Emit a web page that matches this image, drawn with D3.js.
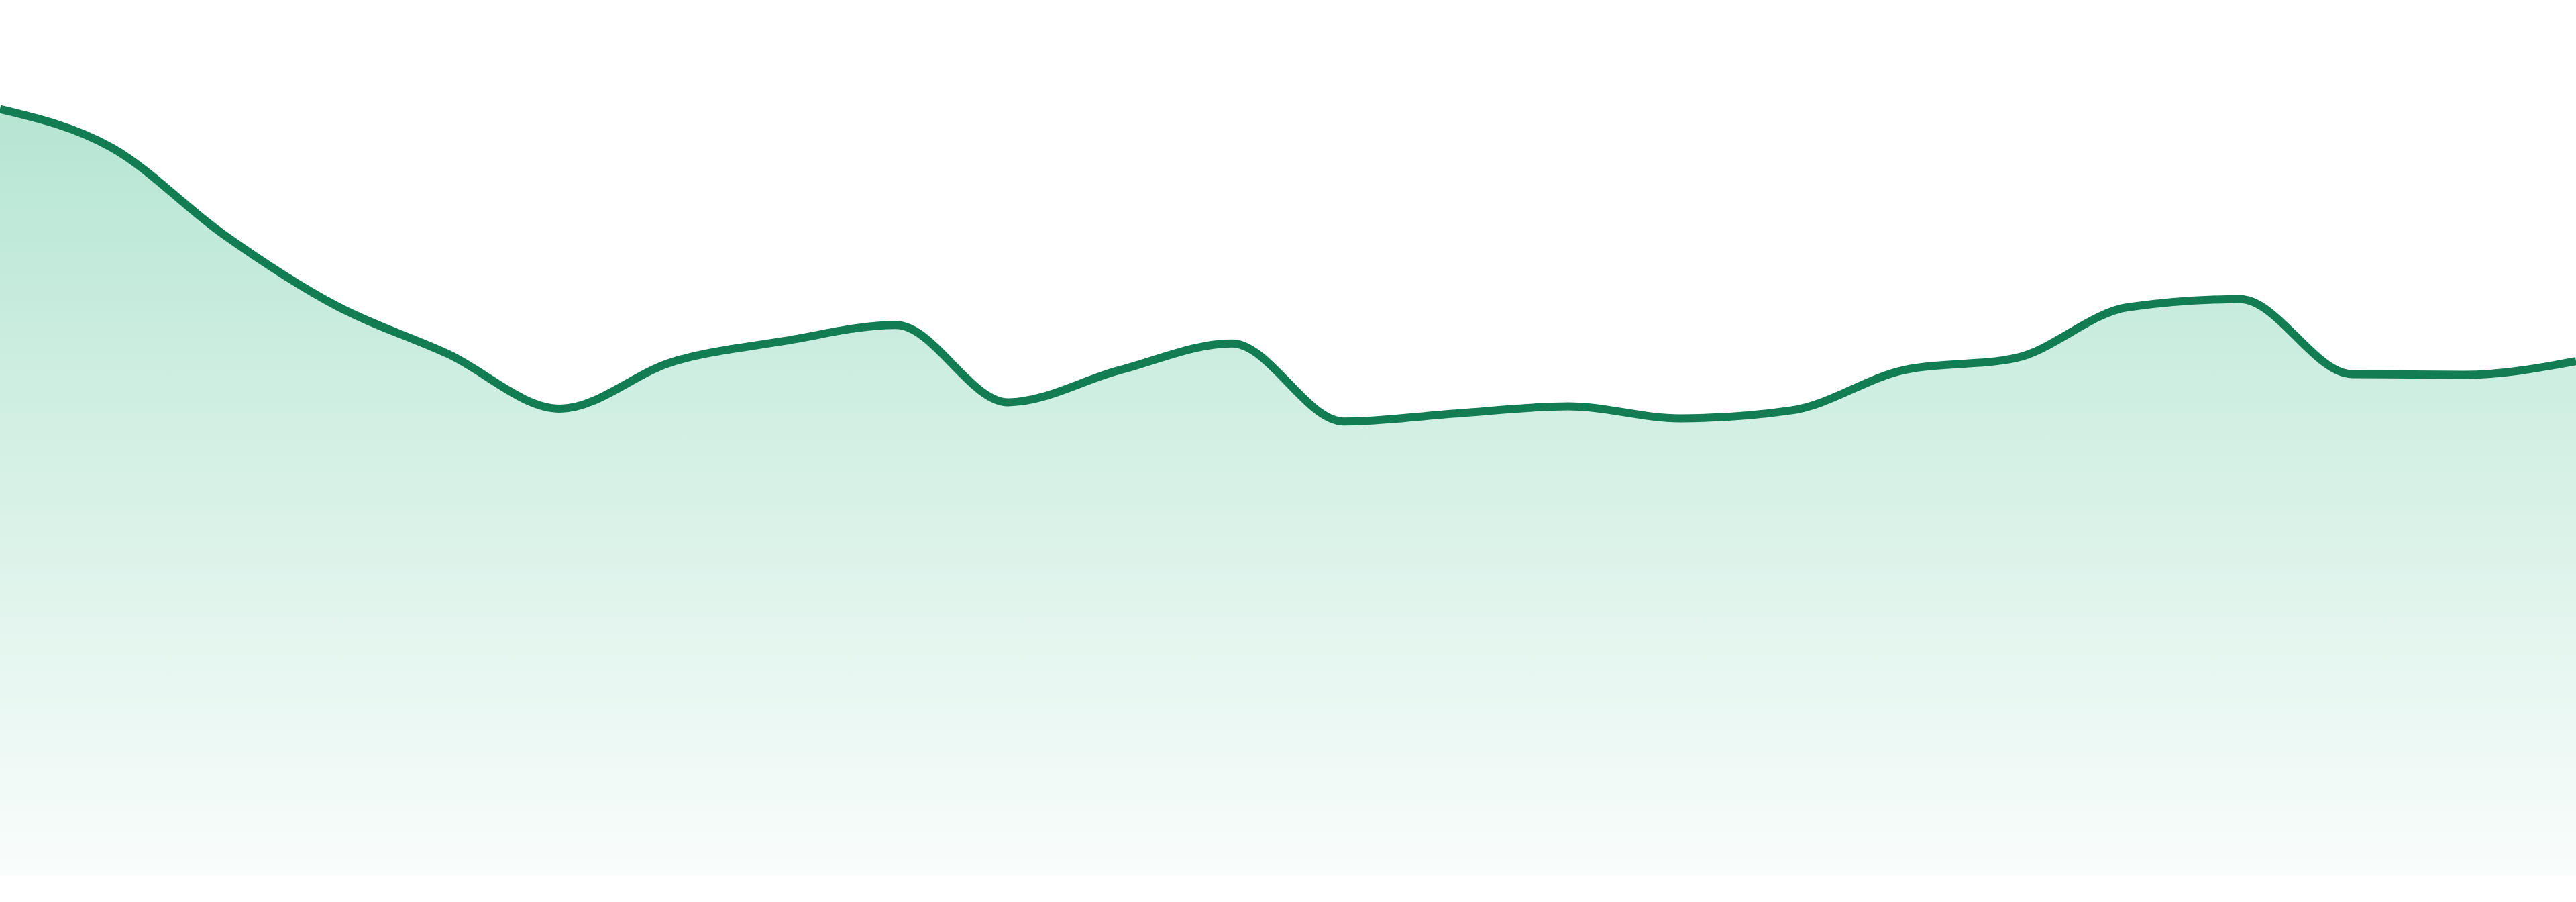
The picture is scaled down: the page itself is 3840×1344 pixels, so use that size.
<!DOCTYPE html>
<html>
<head>
<meta charset="utf-8">
<script src="https://cdn.jsdelivr.net/npm/d3@7"></script>
<style>
  html, body { margin: 0; padding: 0; background: #fff; }
  #chart svg { display: block; }
</style>
</head>
<body>
<div id="chart"></div>
<script>
  // series values, one per step
  const steps = d3.range(24);
  const values = [
    95.2, 90.4, 79.6, 70.8, 64.8, 58.0, 63.8, 66.4, 68.4, 58.8, 62.8, 66.1,
    56.4, 57.4, 58.3, 56.8, 57.8, 62.8, 64.3, 70.6, 71.6, 62.3, 62.2, 63.9
  ];

  const WIDTH = 3840;
  const HEIGHT = 1344;
  const MARGIN = { top: 105, right: 0, bottom: 39, left: 0 };

  const LINE_COLOR = '#127c52';
  const FILL_COLOR = '#34b883';

  const svg = d3.select('#chart').append('svg')
    .attr('width', WIDTH)
    .attr('height', HEIGHT);

  const x = d3.scaleLinear()
    .domain([0, steps.length - 1])
    .range([MARGIN.left, WIDTH - MARGIN.right]);

  const y = d3.scaleLinear()
    .domain([0, 100])
    .range([HEIGHT - MARGIN.bottom, MARGIN.top]);

  const data = steps.map((s, i) => ({ step: s, value: values[i] }));

  // vertical fade for the area
  const grad = svg.append('defs').append('linearGradient')
    .attr('id', 'fade')
    .attr('gradientUnits', 'userSpaceOnUse')
    .attr('x1', 0).attr('x2', 0)
    .attr('y1', y(d3.max(values))).attr('y2', y(0));
  grad.append('stop').attr('offset', '0%').attr('stop-color', FILL_COLOR).attr('stop-opacity', 0.36);
  grad.append('stop').attr('offset', '100%').attr('stop-color', FILL_COLOR).attr('stop-opacity', 0.03);

  const area = d3.area()
    .x(d => x(d.step))
    .y0(y(0))
    .y1(d => y(d.value))
    .curve(d3.curveMonotoneX);

  const line = d3.line()
    .x(d => x(d.step))
    .y(d => y(d.value))
    .curve(d3.curveMonotoneX);

  svg.append('path')
    .datum(data)
    .attr('d', area)
    .attr('fill', 'url(#fade)');

  svg.append('path')
    .datum(data)
    .attr('d', line)
    .attr('fill', 'none')
    .attr('stroke', LINE_COLOR)
    .attr('stroke-width', 12)
    .attr('stroke-linejoin', 'round');
</script>
</body>
</html>
